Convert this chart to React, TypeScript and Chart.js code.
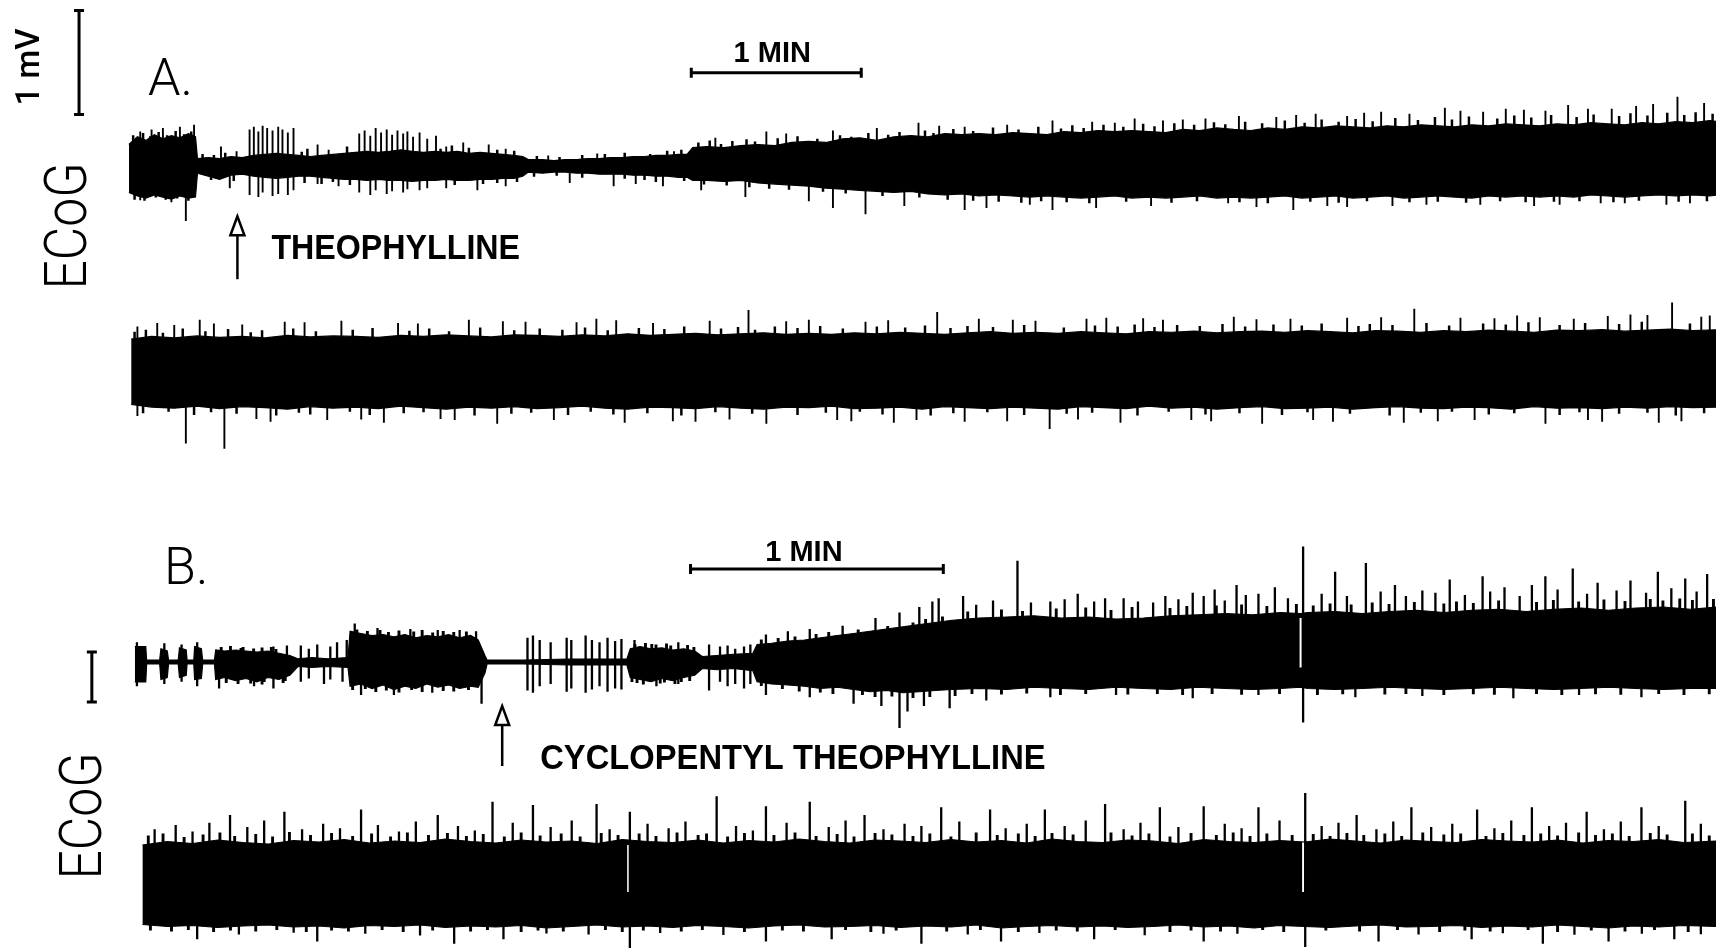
import React, { useEffect, useRef } from "react";
import { Chart, registerables } from "chart.js";

Chart.register(...registerables);

const INK = "#000";
const PAPER = "#fff";

// ---------------------------------------------------------------------------
// ECoG records. Envelope rows: [time (s), upper excursion (µV), lower excursion (µV)]
// Spike / fringe rows: [time (s), peak above baseline (µV), trough below baseline (µV)]
// ---------------------------------------------------------------------------

// Panel A, first sweep (theophylline given at ~38 s)
const a1Envelope: number[][] = [
  [0, 210, 250], [3, 285, 285], [6, 250, 305], [9, 305, 275], [12, 265, 295], [15, 295, 315], [18, 275, 285], [21, 315, 305], [23.5, 285, 295], [24.2, 75, 65],
  [28, 85, 95], [32, 75, 125], [36, 95, 85], [40, 85, 75], [44, 105, 95], [48, 115, 105], [52, 125, 115], [56, 115, 105], [60, 105, 95], [64, 95, 95],
  [68, 105, 105], [72, 115, 115], [76, 125, 125], [80, 135, 125], [84, 145, 135], [88, 135, 125], [92, 145, 135], [96, 160, 135], [100, 145, 145], [104, 135, 135],
  [108, 145, 135], [112, 135, 125], [116, 145, 135], [120, 125, 135], [124, 135, 125], [128, 125, 125], [132, 115, 115], [136, 105, 115], [139, 95, 95], [141, 65, 55],
  [146, 65, 65], [150, 55, 55], [154, 65, 55], [158, 65, 65], [162, 75, 65], [166, 75, 75], [170, 85, 75], [174, 85, 75], [178, 95, 85], [182, 95, 85],
  [186, 105, 95], [190, 105, 95], [194, 115, 105], [197, 115, 105], [199, 180, 135], [204, 190, 135], [210, 180, 145], [216, 200, 135], [222, 210, 160], [228, 200, 170],
  [234, 230, 180], [240, 240, 190], [246, 230, 210], [252, 265, 220], [258, 275, 230], [264, 250, 240], [270, 285, 250], [276, 295, 240], [282, 285, 265], [288, 315, 275],
  [294, 305, 265], [300, 315, 285], [306, 305, 275], [312, 325, 285], [318, 315, 295], [324, 305, 285], [330, 335, 295], [336, 325, 305], [342, 345, 295], [348, 335, 285],
  [354, 345, 305], [360, 335, 295], [366, 325, 305], [372, 355, 295], [378, 345, 285], [384, 370, 305], [390, 355, 295], [396, 345, 305], [402, 370, 295], [408, 355, 285],
  [414, 380, 305], [420, 370, 295], [426, 390, 285], [432, 380, 305], [438, 370, 295], [444, 390, 285], [450, 380, 305], [456, 400, 295], [462, 390, 285], [468, 380, 295],
  [474, 400, 305], [480, 390, 285], [486, 410, 295], [492, 400, 285], [498, 390, 295], [504, 410, 285], [510, 400, 295], [516, 420, 275], [522, 410, 285], [528, 400, 295],
  [534, 420, 285], [540, 410, 275], [546, 430, 285], [552, 420, 275], [558, 440, 285], [561, 430, 275],
];

const a1Spikes: number[][] = [
  [4, 335, 325], [8, 355, 0], [12, 370, 0], [15, 0, 345], [18, 380, 0], [20.1, 0, 525], [23, 400, 0],
  [32.5, 190, 0], [35.6, 0, 210], [38, 145, 0],
  [42.6, 355, 275], [44.1, 380, 0], [45.7, 335, 295], [47.2, 390, 250], [48.8, 370, 0], [50.7, 345, 285], [52.7, 380, 265], [54.2, 355, 0], [56.1, 325, 275], [58.1, 370, 230],
  [66.6, 210, 170], [70.5, 160, 0], [74, 0, 190],
  [81.3, 315, 250], [83.2, 345, 0], [85.2, 295, 275], [87.1, 370, 230], [89, 325, 0], [91, 355, 265], [92.9, 305, 240], [94.8, 345, 0], [96.8, 315, 250], [98.3, 335, 220],
  [100.3, 285, 0], [102.6, 325, 230], [105.3, 265, 210], [108.4, 295, 0],
  [112, 190, 210], [118, 230, 0], [123, 0, 230], [127, 210, 0], [133, 170, 190],
  [148, 105, 0], [155.6, 0, 160], [165.3, 125, 0], [171.1, 0, 190], [178.9, 0, 170], [188.5, 0, 190], [192.4, 145, 0],
  [202, 0, 230], [207, 275, 0], [217.6, 0, 295], [225, 335, 0], [232, 315, 0], [240, 0, 335], [248.5, 345, 400], [260, 0, 460], [264, 370, 0], [273.7, 0, 380],
  [278.7, 420, 0], [286, 390, 0], [295, 380, 420], [302.7, 0, 400], [310, 400, 0], [318, 0, 370], [326, 440, 420], [340, 430, 0], [341.4, 0, 400], [348, 420, 0],
  [355, 460, 0], [360.8, 0, 380], [365, 440, 0], [372, 450, 0], [380, 460, 0], [388, 0, 355], [391.8, 485, 0], [398, 0, 390], [405, 475, 0], [411, 0, 420],
  [412, 495, 0], [418.9, 505, 0], [423, 0, 380], [430, 485, 390], [436, 515, 0], [442, 525, 0], [446, 0, 380], [452, 505, 0], [458, 0, 370], [464.5, 565, 0],
  [470, 535, 0], [477, 0, 370], [478, 525, 0], [486, 555, 0], [492.4, 545, 0], [496, 0, 380], [500, 535, 0], [505, 0, 370], [508, 590, 0], [515, 555, 0],
  [519.5, 0, 355], [523.4, 555, 0], [528, 0, 355], [532, 580, 0], [538, 600, 0], [542.7, 0, 370], [546.6, 670, 0], [551, 0, 355], [556, 610, 0],
];

// short ragged teeth along the edges of the first A sweep
const a1Fringe: number[][] = [
  [1.5, 300, 0], [5, 320, 0], [7.5, 290, 0], [10.5, 330, 0], [13.5, 300, 0], [16.5, 340, 0], [19.5, 310, 0], [22, 335, 0],
  [2, 0, 320], [5.5, 0, 330], [9.5, 0, 300], [13, 0, 320], [17, 0, 310], [21, 0, 330],
  [26, 120, 0], [30, 110, 0], [34, 130, 0], [61, 140, 0], [63, 170, 0], [77, 190, 0], [110, 170, 0], [114, 200, 0], [120, 180, 0], [130, 160, 0],
  [136, 150, 0], [144, 100, 0], [152, 90, 0], [160, 110, 0], [168, 120, 0], [175, 130, 0], [184, 120, 0], [190, 150, 0], [195, 160, 0],
  [29, 0, 130], [37, 0, 140], [62, 0, 160], [68, 0, 170], [72, 0, 150], [78, 0, 180], [115, 0, 180], [125, 0, 170], [130, 0, 160], [137, 0, 150],
  [143, 0, 100], [151, 0, 90], [160, 0, 110], [175, 0, 120], [182, 0, 130], [186, 0, 150], [196, 0, 140],
  [201, 230, 0], [205, 250, 0], [209, 215, 0], [213, 245, 0], [218, 260, 0], [221, 240, 0], [229, 270, 0], [236, 290, 0], [243, 265, 0], [251, 300, 0],
  [255, 285, 0], [261, 320, 0], [268, 305, 0], [272, 330, 0], [281, 345, 0], [284, 320, 0], [291, 360, 0], [298, 340, 0], [305, 375, 0], [314, 355, 0],
  [321, 380, 0], [329, 365, 0], [333, 395, 0], [337, 370, 0], [344, 400, 0], [351, 380, 0], [358, 410, 0], [362, 385, 0], [369, 415, 0], [376, 400, 0],
  [383, 425, 0], [387, 405, 0], [394, 430, 0], [400, 415, 0], [408, 440, 0], [415, 420, 0], [421, 450, 0], [427, 430, 0], [433, 455, 0], [439, 435, 0],
  [447, 465, 0], [455, 445, 0], [461, 475, 0], [467, 450, 0], [473, 480, 0], [483, 460, 0], [489, 490, 0], [495, 470, 0], [502, 495, 0], [511, 475, 0],
  [517, 500, 0], [526, 485, 0], [530, 510, 0], [536, 490, 0], [543, 515, 0], [549, 495, 0], [553, 520, 0], [559, 505, 0],
  [203, 0, 175], [211, 0, 185], [219, 0, 200], [226, 0, 215], [233, 0, 225], [245, 0, 245], [253, 0, 260], [266, 0, 285], [279, 0, 300], [289, 0, 320],
  [298, 0, 330], [307, 0, 340], [315, 0, 350], [322, 0, 335], [331, 0, 345], [339, 0, 355], [352, 0, 340], [368, 0, 350], [377, 0, 335], [392, 0, 345],
  [402, 0, 355], [417, 0, 340], [427, 0, 350], [437, 0, 335], [452, 0, 345], [462, 0, 340], [472, 0, 350], [484, 0, 335], [493, 0, 345], [503, 0, 340],
  [512, 0, 335], [524, 0, 345], [533, 0, 330], [547, 0, 340], [557, 0, 335],
];

// Panel A, second sweep
const a2Envelope: number[][] = [
  [0.8, 320, 310], [8, 345, 335], [16, 330, 345], [24, 350, 325], [32, 335, 350], [40, 345, 330], [48, 330, 340], [56, 355, 355], [64, 340, 330], [72, 350, 345],
  [80, 345, 335], [88, 335, 350], [96, 355, 325], [104, 345, 340], [112, 360, 355], [120, 350, 335], [128, 340, 345], [136, 360, 330], [144, 355, 350], [152, 345, 340],
  [160, 360, 325], [168, 350, 345], [176, 370, 355], [184, 355, 335], [192, 365, 340], [200, 375, 350], [208, 360, 330], [216, 370, 345], [224, 380, 355], [232, 365, 335],
  [240, 375, 340], [248, 365, 325], [256, 380, 350], [264, 370, 345], [272, 385, 335], [280, 375, 355], [288, 365, 330], [296, 380, 340], [304, 390, 350], [312, 375, 335],
  [320, 385, 345], [328, 375, 355], [336, 390, 330], [344, 380, 340], [352, 370, 350], [360, 390, 325], [368, 385, 345], [376, 395, 335], [384, 380, 355], [392, 390, 340],
  [400, 395, 330], [408, 385, 350], [416, 400, 345], [424, 390, 335], [432, 380, 355], [440, 400, 340], [448, 395, 330], [456, 385, 345], [464, 400, 350], [472, 390, 335],
  [480, 405, 340], [488, 395, 355], [496, 385, 330], [504, 405, 345], [512, 400, 340], [520, 410, 350], [528, 395, 335], [536, 405, 345], [544, 415, 330], [552, 400, 340],
  [561, 410, 335],
];

const a2Spikes: number[][] = [
  [3, 440, 420], [10, 475, 0], [16, 455, 0], [20.1, 0, 685], [25, 505, 0], [30, 470, 0], [33.7, 0, 735], [40, 460, 0], [45, 0, 450], [50, 0, 475],
  [55, 485, 0], [62, 480, 0], [70, 0, 460], [75, 495, 0], [82, 0, 455], [90, 0, 485], [95, 475, 0], [102, 470, 0], [110, 0, 450], [115, 0, 460],
  [120, 505, 0], [130, 0, 495], [132, 490, 0], [140, 485, 0], [150, 0, 460], [158, 480, 0], [165, 515, 0], [172, 500, 0], [175, 0, 485], [185, 475, 0],
  [192, 0, 470], [200, 0, 475], [205, 495, 0], [212, 0, 455], [218.7, 600, 0], [225, 0, 495], [232, 490, 0], [240, 505, 0], [250, 0, 460], [255, 0, 470],
  [260, 485, 0], [268, 500, 0], [270, 0, 485], [278, 0, 460], [285.3, 580, 0], [295, 0, 475], [300, 515, 0], [310, 0, 470], [312, 505, 0], [320, 495, 0],
  [325, 0, 545], [335, 0, 455], [338, 515, 0], [345, 525, 0], [350, 0, 485], [358, 520, 0], [365, 505, 0], [375, 0, 460], [382, 0, 470], [390, 535, 0],
  [398, 510, 0], [400, 0, 495], [410, 515, 0], [418, 0, 460], [425, 0, 475], [430, 525, 0], [442, 530, 0], [450, 0, 485], [453.7, 610, 0], [462, 0, 470],
  [470, 525, 0], [475, 0, 460], [482, 520, 0], [490, 545, 0], [498, 530, 0], [500, 0, 495], [510, 515, 0], [515, 0, 460], [520, 0, 475], [522, 540, 0],
  [530, 555, 0], [536, 550, 0], [540, 0, 485], [544.7, 670, 0], [548, 0, 470], [555, 535, 0], [558, 545, 0],
];

const a2Fringe: number[][] = [
  [2, 390, 0], [6, 410, 0], [12, 380, 0], [19, 420, 0], [27, 395, 0], [35, 415, 0], [43, 385, 0], [47, 405, 0], [58, 420, 0], [66, 395, 0],
  [79, 410, 0], [86, 425, 0], [99, 400, 0], [106, 420, 0], [113, 395, 0], [124, 430, 0], [136, 405, 0], [145, 420, 0], [153, 410, 0], [161, 430, 0],
  [169, 405, 0], [180, 425, 0], [189, 415, 0], [196, 440, 0], [209, 420, 0], [215, 435, 0], [221, 410, 0], [228, 440, 0], [236, 425, 0], [244, 445, 0],
  [252, 420, 0], [264, 440, 0], [274, 430, 0], [281, 450, 0], [290, 425, 0], [296, 445, 0], [305, 435, 0], [316, 455, 0], [330, 430, 0], [341, 450, 0],
  [349, 440, 0], [355, 460, 0], [362, 435, 0], [370, 455, 0], [378, 445, 0], [386, 465, 0], [394, 440, 0], [404, 460, 0], [414, 450, 0], [421, 470, 0],
  [434, 445, 0], [438, 465, 0], [446, 455, 0], [458, 475, 0], [466, 450, 0], [478, 470, 0], [486, 460, 0], [494, 480, 0], [505, 455, 0], [514, 475, 0],
  [526, 465, 0], [534, 485, 0], [551, 470, 0],
  [5, 0, 395], [14, 0, 380], [23, 0, 410], [29, 0, 385], [38, 0, 400], [52, 0, 415], [60, 0, 390], [64, 0, 405], [78, 0, 380], [85, 0, 410],
  [97, 0, 395], [104, 0, 385], [122, 0, 415], [135, 0, 400], [142, 0, 390], [155, 0, 410], [163, 0, 380], [171, 0, 405], [183, 0, 395], [195, 0, 415],
  [207, 0, 385], [220, 0, 400], [236, 0, 410], [246, 0, 390], [258, 0, 380], [266, 0, 405], [283, 0, 415], [291, 0, 395], [303, 0, 385], [316, 0, 410],
  [331, 0, 400], [340, 0, 390], [356, 0, 415], [367, 0, 380], [380, 0, 405], [392, 0, 395], [407, 0, 410], [416, 0, 385], [431, 0, 400], [445, 0, 415],
  [456, 0, 390], [467, 0, 380], [480, 0, 405], [489, 0, 395], [505, 0, 410], [512, 0, 385], [526, 0, 400], [536, 0, 390], [546, 0, 415], [556, 0, 395],
];

// Panel B, first sweep (cyclopentyl theophylline given at ~87 s)
const b1Envelope: number[][] = [
  [0.3, 310, 400], [2.9, 310, 400], [3.1, 40, 40], [6.2, 40, 40], [6.5, 265, 350], [8.0, 220, 310], [8.3, 40, 40], [10.6, 40, 40], [10.9, 285, 310], [12.5, 240, 265],
  [12.7, 40, 40], [14.3, 40, 40], [14.5, 310, 350], [16.1, 265, 330], [16.4, 40, 40], [19.2, 40, 40], [19.5, 240, 350], [21.6, 220, 310], [24.2, 240, 375], [26.7, 220, 330],
  [29.3, 200, 395], [31.9, 220, 310], [34.5, 175, 350], [37.1, 130, 265], [39.0, 65, 90], [42.3, 90, 110], [46.2, 65, 90], [50.9, 90, 110], [51.4, 615, 485], [54.0, 570, 440],
  [56.6, 530, 530], [59.2, 550, 460], [61.8, 505, 550], [64.4, 550, 485], [67.0, 485, 530], [69.6, 530, 440], [72.2, 505, 505], [74.8, 550, 460], [77.4, 485, 530], [80.0, 530, 485],
  [81.8, 440, 505], [83.4, 130, 220], [83.9, 40, 40], [92.5, 40, 40], [103.4, 60, 60], [117.1, 60, 60], [117.9, 265, 310], [120.2, 310, 350], [122.8, 265, 395], [125.4, 285, 330],
  [128.0, 240, 375], [130.6, 265, 310], [133.2, 220, 265], [135.0, 110, 130], [138.4, 130, 155], [142.3, 155, 130], [147.0, 175, 175], [148.0, 350, 395], [151.4, 375, 440], [155.3, 420, 460],
  [159.2, 440, 485], [163.1, 485, 530], [167.0, 530, 505], [170.9, 570, 550], [174.8, 615, 595], [178.7, 660, 570], [182.6, 705, 615], [186.5, 750, 595], [190.3, 790, 570], [194.3, 835, 550],
  [200.7, 880, 530], [207.2, 900, 550], [213.7, 925, 505], [220.2, 880, 530], [226.7, 900, 550], [233.2, 860, 505], [239.7, 880, 530], [246.2, 925, 550], [252.7, 945, 505], [259.2, 970, 530],
  [265.7, 945, 550], [272.2, 990, 530], [277.0, 970, 505], [278.7, 990, 530], [285.2, 1010, 550], [291.7, 970, 530], [298.1, 1010, 505], [304.6, 1035, 530], [311.1, 990, 550], [317.6, 1035, 530],
  [324.1, 1055, 505], [330.6, 1010, 530], [337.1, 1055, 550], [343.6, 1080, 530], [350.1, 1035, 505], [356.6, 1080, 530], [363.1, 1100, 550], [369.6, 1055, 530], [376, 1100, 530],
];

const b1Spikes: number[][] = [
  [0.8, 395, 485], [7.3, 375, 440], [11.4, 350, 395], [15.1, 395, 485],
  [20.3, 0, 530], [28.6, 0, 485], [33.2, 310, 530], [36.4, 330, 0],
  [39.7, 330, 395], [41.6, 265, 330], [43.6, 350, 0], [45.2, 0, 440], [46.7, 310, 350], [48.3, 395, 0], [49.6, 0, 395], [50.6, 440, 0],
  [52.5, 770, 0], [54.0, 0, 660], [57.9, 680, 0], [61.8, 0, 660], [65.7, 660, 0], [70.9, 0, 615], [72.2, 640, 0], [77.4, 640, 0], [81.3, 615, 0], [82.6, 0, 835],
  [93.5, 485, 570], [94.8, 530, 615], [96.4, 440, 485], [99.0, 395, 440], [102.8, 485, 595], [103.9, 440, 530], [107.3, 530, 615], [108.8, 440, 550], [110.6, 395, 485], [112.5, 485, 595],
  [114.3, 420, 530], [115.8, 460, 550], [118.9, 440, 0], [124.1, 0, 485], [129.3, 395, 440],
  [136.6, 350, 570], [139.2, 310, 395], [141.0, 330, 485], [142.8, 265, 440], [144.9, 310, 530], [146.4, 350, 440],
  [150.1, 550, 660], [155.3, 615, 0], [160.5, 660, 705], [168.3, 725, 0], [170.9, 0, 835], [176.1, 880, 0], [177.5, 0, 880], [181.8, 990, 1320], [183.7, 0, 990], [186.5, 1100, 0],
  [187.6, 0, 880], [189.6, 1210, 0], [191.1, 1275, 0], [193.7, 0, 925],
  [196.9, 1320, 0], [200, 1145, 0], [202.4, 0, 770], [204, 1230, 0], [209.8, 2025, 0], [213, 1190, 0], [217.6, 1210, 705], [221, 1255, 0], [224.1, 1365, 0], [228, 1210, 0],
  [230.6, 1275, 0], [233.2, 0, 660], [235, 1275, 0], [238.4, 1210, 0], [242, 1190, 0], [244.9, 1320, 0], [248, 1255, 0], [251.4, 1385, 725], [254, 1320, 0], [256.6, 1450, 0],
  [259, 1230, 0], [261.8, 1540, 0], [264, 1340, 0], [267.0, 1365, 660], [270.9, 1495, 0], [274, 1275, 0], [277.6, 2310, 1210], [282, 1365, 0], [285.2, 1805, 0], [288, 1320, 0],
  [290.0, 0, 705], [292.5, 1980, 0], [296, 1410, 0], [299.4, 1540, 0], [302, 1320, 0], [305.9, 1430, 680], [309, 1385, 0], [312.4, 1650, 0], [316, 1340, 0], [320.2, 1715, 0],
  [322, 1410, 0], [325.4, 1495, 0], [327.5, 0, 725], [329, 1320, 0], [331.9, 1540, 0], [335.1, 1715, 0], [338, 1450, 0], [341.6, 1870, 0], [343.1, 0, 660], [345, 1365, 0],
  [347.5, 1585, 0], [352, 1430, 0], [355.3, 1630, 0], [357.9, 0, 705], [359, 1385, 0], [361.8, 1805, 0], [365, 1475, 0], [368.3, 1670, 0], [371, 1410, 0], [373.5, 1760, 0],
];

const b1Fringe: number[][] = [
  [20.8, 300, 0], [22, 0, 420], [23, 320, 0], [24.8, 0, 440], [25.5, 280, 0], [26, 300, 0], [27.8, 0, 430], [28.5, 270, 0], [30.5, 290, 450], [31, 0, 400],
  [32.7, 300, 0], [33.8, 260, 0], [35.5, 0, 420], [36, 0, 380],
  [53, 650, 0], [55.5, 620, 0], [58.5, 640, 0], [60.5, 600, 0], [63, 630, 0], [66.5, 610, 0], [68.5, 640, 0], [71, 590, 0], [73.5, 620, 0], [76, 600, 0], [79, 610, 0],
  [52, 0, 560], [55, 0, 540], [57.5, 0, 600], [60, 0, 570], [63, 0, 610], [66, 0, 560], [68.5, 0, 600], [73.5, 0, 580], [76, 0, 590], [79.5, 0, 560],
  [118.3, 0, 400], [119, 360, 0], [121.5, 380, 0], [123, 360, 0], [124, 350, 0], [125, 0, 430], [126.5, 370, 0], [127.5, 330, 0], [130, 0, 400], [131.5, 340, 0],
  [133, 300, 0], [119.5, 0, 420], [121, 0, 450], [126, 0, 410], [128.5, 0, 440], [132, 0, 380],
  [149, 450, 0], [153, 480, 0], [157, 510, 0], [162, 560, 0], [165, 600, 0], [172, 650, 0], [179, 720, 0], [185, 790, 0], [188, 860, 0], [192, 910, 0],
  [198, 1010, 0], [206, 1050, 0], [211, 1020, 0], [219, 1070, 0], [226, 1090, 0], [232, 1040, 0], [237, 1100, 0], [246, 1080, 0], [250, 1120, 0], [257, 1130, 0],
  [263, 1150, 0], [269, 1120, 0], [276, 1160, 0], [280, 1130, 0], [284, 1170, 0], [289, 1150, 0], [294, 1190, 0], [298, 1160, 0], [304, 1200, 0], [311, 1170, 0],
  [314, 1210, 0], [318, 1180, 0], [324, 1230, 0], [333, 1200, 0], [337, 1240, 0], [343, 1210, 0], [349, 1250, 0], [354, 1220, 0], [360, 1260, 0], [363, 1230, 0],
  [367, 1270, 0], [370, 1240, 0], [375, 1260, 0],
  [149, 0, 480], [154, 0, 540], [158, 0, 590], [163, 0, 610], [166, 0, 640], [173, 0, 660], [176, 0, 700], [180, 0, 690], [185, 0, 720], [189, 0, 700],
  [195, 0, 680], [199, 0, 640], [206, 0, 650], [212, 0, 630], [220, 0, 660], [226, 0, 640], [236, 0, 650], [243, 0, 640], [249, 0, 660], [256, 0, 640],
  [263, 0, 655], [272, 0, 640], [281, 0, 660], [287, 0, 645], [297, 0, 650], [302, 0, 640], [311, 0, 660], [318, 0, 645], [323, 0, 655], [333, 0, 640],
  [339, 0, 660], [347, 0, 645], [353, 0, 655], [362, 0, 640], [368, 0, 660], [374, 0, 645],
];

// pen lift-off marks: [time (s), top (µV), bottom (µV)]
const b1Gaps: number[][] = [[277.0, 880, -110]];

// Panel B, second sweep
const b2Envelope: number[][] = [
  [2.1, 830, 760], [8, 900, 800], [14, 860, 780], [20, 930, 820], [26, 880, 790], [32, 850, 770], [38, 920, 810], [44, 890, 790], [50, 940, 830], [56, 870, 780],
  [62, 910, 800], [68, 880, 770], [74, 950, 820], [80, 900, 790], [86, 870, 810], [92, 930, 780], [98, 890, 830], [104, 910, 800], [110, 860, 770], [116, 940, 810],
  [122, 900, 790], [128, 880, 820], [134, 930, 780], [140, 870, 800], [146, 920, 830], [152, 890, 790], [158, 950, 770], [164, 900, 810], [170, 870, 800], [176, 930, 780],
  [182, 910, 820], [188, 880, 790], [194, 940, 810], [200, 890, 770], [206, 920, 830], [212, 870, 800], [218, 950, 780], [224, 900, 810], [230, 880, 790], [236, 930, 820],
  [242, 910, 800], [248, 860, 770], [254, 940, 810], [260, 900, 790], [266, 880, 830], [272, 920, 780], [278, 890, 800], [284, 950, 820], [290, 910, 790], [296, 870, 770],
  [302, 930, 810], [308, 900, 800], [314, 880, 780], [320, 940, 820], [326, 910, 790], [332, 890, 810], [338, 930, 770], [344, 870, 800], [350, 920, 830], [356, 900, 790],
  [362, 940, 810], [368, 880, 780], [376, 910, 800],
];

const b2Spikes: number[][] = [
  [5, 1145, 0], [10, 1230, 0], [14, 1100, 0], [15.1, 0, 1055], [18, 1275, 0], [22.9, 1430, 0], [25, 0, 960], [27, 1190, 0], [31, 1320, 0], [35.8, 1495, 0],
  [38, 0, 925], [40, 1145, 0], [43.6, 0, 1100], [45, 1255, 0], [49, 1165, 0], [54.0, 1540, 0], [55, 0, 945], [58, 1230, 0], [63, 1100, 0], [67, 1300, 0],
  [68, 0, 980], [72.2, 1430, 0], [76.1, 0, 1145], [77, 1210, 0], [81, 1120, 0], [85.2, 1695, 0], [87.8, 0, 1055], [90, 1275, 0], [94.8, 1630, 0], [98, 0, 940],
  [99, 1190, 0], [104, 1320, 0], [108, 0, 960], [109.9, 1650, 0], [113, 1145, 0], [117.8, 1495, 1230], [122, 1255, 0], [125, 0, 930], [127, 1165, 0], [131, 1300, 0],
  [138.4, 1805, 0], [140, 0, 970], [143, 1210, 0], [147, 1120, 0], [150.1, 1605, 1100], [155, 1275, 0], [160.5, 1695, 0], [165, 1190, 0], [165.7, 0, 1055], [169, 1320, 0],
  [173.5, 1430, 0], [178, 1145, 945], [183, 1255, 0], [187, 1210, 1145], [191.7, 1585, 0], [196, 1300, 0], [198, 0, 960], [203.3, 1540, 0], [205.9, 0, 1100], [207, 1165, 0],
  [212, 1255, 0], [215, 0, 930], [216.3, 1540, 0], [221, 1210, 0], [226, 1320, 0], [228.0, 0, 1055], [230.6, 1650, 0], [235, 1145, 0], [239, 1275, 0], [240, 0, 975],
  [243.6, 1585, 0], [248, 1190, 0], [254.0, 1605, 1100], [259, 1255, 0], [262, 0, 945], [263, 1165, 0], [267.0, 1585, 0], [272, 1320, 0], [278.1, 1870, 1210], [282, 1210, 0],
  [286, 1275, 0], [290.3, 1430, 0], [295, 1145, 0], [295.5, 0, 1100], [299, 1300, 0], [303.3, 1585, 0], [305, 0, 960], [308, 1190, 0], [313, 1255, 0], [317.6, 0, 1055],
  [318.9, 1540, 0], [323, 1165, 0], [325, 0, 935], [327, 1320, 0], [331.9, 1585, 0], [334.5, 0, 1145], [336, 1210, 0], [340, 1275, 0], [342, 0, 965], [344.9, 1495, 0],
  [349, 1145, 0], [350.1, 0, 1100], [353, 1300, 0], [357.9, 1585, 0], [358, 0, 945], [362, 1210, 0], [365.7, 0, 1055], [368.3, 1715, 0], [372, 1255, 955],
];

const b2Fringe: number[][] = [
  [3.5, 1020, 0], [7, 1060, 0], [12, 990, 0], [16.5, 1040, 0], [20.5, 1080, 0], [24, 1010, 0], [29, 1050, 0], [33, 1000, 0], [37, 1090, 0], [42, 1030, 0],
  [47, 1070, 0], [52, 1010, 0], [56.5, 1060, 0], [61, 1000, 0], [65, 1080, 0], [70, 1030, 0], [74.5, 1070, 0], [79, 1010, 0], [83, 1050, 0], [88, 1000, 0],
  [92, 1080, 0], [96.5, 1020, 0], [101.5, 1060, 0], [106, 1000, 0], [111, 1070, 0], [115, 1030, 0], [120, 1060, 0], [124, 1010, 0], [129, 1080, 0], [134, 1030, 0],
  [136, 1060, 0], [141, 1000, 0], [145, 1070, 0], [152, 1030, 0], [157, 1080, 0], [162, 1010, 0], [167, 1050, 0], [171, 1000, 0], [176, 1070, 0], [180, 1040, 0],
  [185, 1010, 0], [189, 1060, 0], [194, 1000, 0], [200, 1080, 0], [205, 1030, 0], [210, 1060, 0], [214, 1010, 0], [218, 1070, 0], [223, 1040, 0], [232, 1080, 0],
  [237, 1020, 0], [241, 1060, 0], [246, 1000, 0], [251, 1070, 0], [257, 1030, 0], [261, 1080, 0], [265, 1010, 0], [269, 1060, 0], [275, 1030, 0], [280, 1050, 0],
  [284, 1010, 0], [288, 1070, 0], [292, 1030, 0], [297, 1060, 0], [301, 1010, 0], [306, 1080, 0], [311, 1040, 0], [315, 1060, 0], [321, 1010, 0], [325, 1070, 0],
  [330, 1030, 0], [334, 1060, 0], [338, 1020, 0], [343, 1080, 0], [347, 1030, 0], [351, 1060, 0], [355, 1010, 0], [360, 1070, 0], [364, 1040, 0], [370, 1060, 0],
  [374, 1020, 0],
  [4, 0, 880], [9, 0, 900], [13, 0, 870], [19, 0, 910], [23, 0, 880], [29, 0, 900], [34, 0, 870], [41, 0, 910], [47, 0, 880], [51, 0, 900],
  [59, 0, 870], [64, 0, 910], [71, 0, 880], [80, 0, 900], [84, 0, 870], [92, 0, 910], [96, 0, 880], [102, 0, 900], [112, 0, 870], [116, 0, 910],
  [121, 0, 880], [130, 0, 900], [135, 0, 870], [145, 0, 910], [154, 0, 880], [159, 0, 900], [169, 0, 870], [175, 0, 910], [181, 0, 880], [193, 0, 900],
  [201, 0, 870], [210, 0, 910], [219, 0, 880], [224, 0, 900], [233, 0, 870], [246, 0, 910], [251, 0, 880], [258, 0, 900], [268, 0, 870], [273, 0, 910],
  [283, 0, 880], [291, 0, 900], [300, 0, 870], [310, 0, 910], [316, 0, 880], [322, 0, 900], [331, 0, 870], [338, 0, 910], [346, 0, 880], [354, 0, 900],
  [361, 0, 870], [369, 0, 910],
];

const b2Gaps: number[][] = [[117.4, 830, -110], [277.6, 880, -110]];

// ---------------------------------------------------------------------------
// Scales: time in seconds (panel A and B have different paper speeds),
// amplitude in µV (panel A and B have different gains).
// ---------------------------------------------------------------------------
const X_A = { min: -45.5, max: 560.2 };
const X_B = { min: -31.7, max: 375.6 };
const Y_A = { min: -7555, max: 1600 };
const Y_B = { min: -5800, max: 13240 };

// baseline of each sweep on its panel's amplitude axis (µV)
const A2_BASELINE = -1980;
const B2_BASELINE = -4490;

// calibration marks and drug markers, in axis units
const CAL_A = { t: -17.6, from: 500, to: 1500 };
const CAL_B = { t: -9.9, from: -800, to: 200 };
const MIN_A = { from: 198.5, to: 258.5, level: 900 };
const MIN_B = { from: 132.2, to: 192.2, level: 1860 };
const DRUG_A = { t: 38.3, tip: -480, tail: -1085, label: "THEOPHYLLINE" };
const DRUG_B = { t: 87.5, tip: -880, tail: -2080, label: "CYCLOPENTYL THEOPHYLLINE" };

type Sweep = {
  envelope: number[][];
  spikes: number[][];
  fringe: number[][];
  gaps: number[][];
  xAxisID: string;
  yAxisID: string;
  baseline: number;
  spikeWidth: number;
};

const SWEEPS: Sweep[] = [
  { envelope: a1Envelope, spikes: a1Spikes, fringe: a1Fringe, gaps: [], xAxisID: "xA", yAxisID: "yA", baseline: 0, spikeWidth: 1.9 },
  { envelope: a2Envelope, spikes: a2Spikes, fringe: a2Fringe, gaps: [], xAxisID: "xA", yAxisID: "yA", baseline: A2_BASELINE, spikeWidth: 1.9 },
  { envelope: b1Envelope, spikes: b1Spikes, fringe: b1Fringe, gaps: b1Gaps, xAxisID: "xB", yAxisID: "yB", baseline: 0, spikeWidth: 2.3 },
  { envelope: b2Envelope, spikes: b2Spikes, fringe: b2Fringe, gaps: b2Gaps, xAxisID: "xB", yAxisID: "yB", baseline: B2_BASELINE, spikeWidth: 2.3 },
];

function verticalStrokes(rows: number[][], base: number) {
  const pts: { x: number; y: number | null }[] = [];
  for (const [t, hi, lo] of rows) {
    pts.push({ x: t, y: base + hi });
    pts.push({ x: t, y: base - lo });
    pts.push({ x: t, y: null });
  }
  return pts;
}

function buildDatasets() {
  const out: any[] = [];
  for (const s of SWEEPS) {
    const common = {
      type: "line",
      xAxisID: s.xAxisID,
      yAxisID: s.yAxisID,
      pointRadius: 0,
      tension: 0,
      spanGaps: false,
    };
    out.push({
      ...common,
      data: s.envelope.map(([t, hi]) => ({ x: t, y: s.baseline + hi })),
      borderColor: INK,
      backgroundColor: INK,
      borderWidth: 1.2,
      fill: "+1",
      order: 2,
    });
    out.push({
      ...common,
      data: s.envelope.map(([t, , lo]) => ({ x: t, y: s.baseline - lo })),
      borderColor: INK,
      borderWidth: 1.2,
      fill: false,
      order: 2,
    });
    if (s.gaps.length) {
      out.push({
        ...common,
        data: s.gaps.flatMap(([t, top, bottom]) => [
          { x: t, y: s.baseline + top },
          { x: t, y: s.baseline + bottom },
          { x: t, y: null },
        ]),
        borderColor: PAPER,
        borderWidth: 2,
        fill: false,
        order: 1,
      });
    }
    out.push({
      ...common,
      data: verticalStrokes(s.fringe, s.baseline),
      borderColor: INK,
      borderWidth: s.spikeWidth + 0.6,
      borderCapStyle: "butt",
      fill: false,
      order: 0,
    });
    out.push({
      ...common,
      data: verticalStrokes(s.spikes, s.baseline),
      borderColor: INK,
      borderWidth: s.spikeWidth,
      borderCapStyle: "butt",
      fill: false,
      order: 0,
    });
  }
  return out;
}

function drawText(
  ctx: CanvasRenderingContext2D,
  str: string,
  x: number,
  y: number,
  font: string,
  opts: { align?: CanvasTextAlign; baseline?: CanvasTextBaseline; scaleX?: number; rotate?: number } = {}
) {
  ctx.save();
  ctx.translate(x, y);
  if (opts.rotate) ctx.rotate(opts.rotate);
  ctx.scale(opts.scaleX ?? 1, 1);
  ctx.font = font;
  ctx.textAlign = opts.align ?? "left";
  ctx.textBaseline = opts.baseline ?? "alphabetic";
  ctx.fillStyle = INK;
  ctx.fillText(str, 0, 0);
  ctx.restore();
}

function calibrationBar(ctx: CanvasRenderingContext2D, x: number, y0: number, y1: number) {
  ctx.lineWidth = 3;
  ctx.beginPath();
  ctx.moveTo(x, y0);
  ctx.lineTo(x, y1);
  ctx.moveTo(x - 5, y0);
  ctx.lineTo(x + 5, y0);
  ctx.moveTo(x - 5, y1);
  ctx.lineTo(x + 5, y1);
  ctx.stroke();
}

function timeBar(ctx: CanvasRenderingContext2D, x0: number, x1: number, y: number) {
  ctx.lineWidth = 3;
  ctx.beginPath();
  ctx.moveTo(x0, y);
  ctx.lineTo(x1, y);
  ctx.moveTo(x0, y - 5);
  ctx.lineTo(x0, y + 5);
  ctx.moveTo(x1, y - 5);
  ctx.lineTo(x1, y + 5);
  ctx.stroke();
}

function drugArrow(ctx: CanvasRenderingContext2D, x: number, tip: number, tail: number) {
  const head = 19;
  ctx.lineWidth = 2.5;
  ctx.beginPath();
  ctx.moveTo(x, tip);
  ctx.lineTo(x - 7, tip + head);
  ctx.lineTo(x + 7, tip + head);
  ctx.closePath();
  ctx.stroke();
  ctx.beginPath();
  ctx.moveTo(x, tip + head);
  ctx.lineTo(x, tail);
  ctx.stroke();
}

const light = (px: number) => `300 ${px}px Roboto, "Liberation Sans", sans-serif`;
const medium = (px: number) => `500 ${px}px Roboto, "Liberation Sans", sans-serif`;
const bold = (px: number) => `bold ${px}px "Liberation Sans", Arial, sans-serif`;

const figureMarks = {
  id: "figureMarks",
  afterDatasetsDraw(chart: any) {
    const { ctx, scales } = chart;
    const { xA, yA, xB, yB } = scales;
    ctx.save();
    ctx.strokeStyle = INK;
    ctx.fillStyle = INK;
    ctx.lineCap = "butt";

    // Panel A
    calibrationBar(ctx, xA.getPixelForValue(CAL_A.t), yA.getPixelForValue(CAL_A.to), yA.getPixelForValue(CAL_A.from));
    drawText(ctx, "1 mV", 31, 67, medium(33), { align: "center", baseline: "middle", rotate: -Math.PI / 2 });
    drawText(ctx, "A.", 148, 95, light(52));
    drawText(ctx, "ECoG", 71, 226, light(60), { align: "center", baseline: "middle", rotate: -Math.PI / 2, scaleX: 0.86 });

    const a0 = xA.getPixelForValue(MIN_A.from);
    const a1 = xA.getPixelForValue(MIN_A.to);
    const ay = yA.getPixelForValue(MIN_A.level);
    timeBar(ctx, a0, a1, ay);
    drawText(ctx, "1 MIN", (a0 + a1) / 2 - 4, ay - 11, bold(29), { align: "center" });

    const dax = xA.getPixelForValue(DRUG_A.t);
    const dat = yA.getPixelForValue(DRUG_A.tip);
    drugArrow(ctx, dax, dat, yA.getPixelForValue(DRUG_A.tail));
    drawText(ctx, DRUG_A.label, dax + 34, dat + 33, bold(35), { baseline: "middle", scaleX: 0.92 });

    // Panel B
    drawText(ctx, "B.", 164, 584, light(52));
    calibrationBar(ctx, xB.getPixelForValue(CAL_B.t), yB.getPixelForValue(CAL_B.to), yB.getPixelForValue(CAL_B.from));
    drawText(ctx, "ECoG", 86, 816, light(60), { align: "center", baseline: "middle", rotate: -Math.PI / 2, scaleX: 0.86 });

    const b0 = xB.getPixelForValue(MIN_B.from);
    const b1 = xB.getPixelForValue(MIN_B.to);
    const by = yB.getPixelForValue(MIN_B.level);
    timeBar(ctx, b0, b1, by);
    drawText(ctx, "1 MIN", (b0 + b1) / 2 - 13, by - 8, bold(29), { align: "center" });

    const dbx = xB.getPixelForValue(DRUG_B.t);
    const dbt = yB.getPixelForValue(DRUG_B.tip);
    drugArrow(ctx, dbx, dbt, yB.getPixelForValue(DRUG_B.tail));
    drawText(ctx, DRUG_B.label, dbx + 38, dbt + 53, bold(35), { baseline: "middle", scaleX: 0.935 });

    ctx.restore();
  },
};

export default function App() {
  const canvasRef = useRef<HTMLCanvasElement | null>(null);

  useEffect(() => {
    const canvas = canvasRef.current;
    if (!canvas) return;
    const chart = new Chart(canvas, {
      type: "line",
      data: { datasets: buildDatasets() },
      options: {
        animation: false,
        responsive: false,
        maintainAspectRatio: false,
        devicePixelRatio: 1,
        events: [],
        layout: { padding: 0 },
        plugins: {
          legend: { display: false },
          tooltip: { enabled: false },
          title: { display: false },
        },
        scales: {
          xA: { type: "linear", display: false, min: X_A.min, max: X_A.max },
          xB: { type: "linear", display: false, min: X_B.min, max: X_B.max },
          yA: { type: "linear", display: false, min: Y_A.min, max: Y_A.max },
          yB: { type: "linear", display: false, min: Y_B.min, max: Y_B.max },
        },
      },
      plugins: [figureMarks],
    } as any);
    return () => chart.destroy();
  }, []);

  return (
    <div style={{ position: "fixed", left: 0, top: 0, width: 1716, height: 952, background: PAPER }}>
      <canvas ref={canvasRef} width={1716} height={952} style={{ display: "block", width: 1716, height: 952 }} />
    </div>
  );
}
